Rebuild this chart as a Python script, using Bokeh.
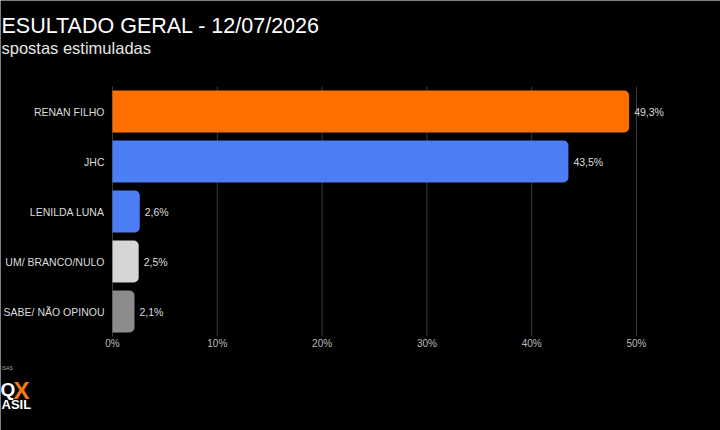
from bokeh.plotting import figure
from bokeh.models import ColumnDataSource, Range1d, Label
from bokeh.core.properties import value
from bokeh.embed import file_html
from bokeh.resources import INLINE

# ---- data ----
categories = ["RENAN FILHO", "JHC", "LENILDA LUNA", "UM/ BRANCO/NULO", "SABE/ NÃO OPINOU"]
values = [49.3, 43.5, 2.6, 2.5, 2.1]
value_labels = ["49,3%", "43,5%", "2,6%", "2,5%", "2,1%"]
colors = ["#FF6F00", "#4D7EF6", "#4D7EF6", "#D6D6D6", "#8C8C8C"]
x_ticks = [0, 10, 20, 30, 40, 50]
x_tick_labels = ["0%", "10%", "20%", "30%", "40%", "50%"]
title_text = "ESULTADO GERAL - 12/07/2026"
subtitle_text = "spostas estimuladas"

FONT = "Liberation Sans"
W, H = 720, 430

# ---- layout (pixels) ----
X0_PX = 112          # pixel of 0 %
PX_PER_UNIT = 10.48  # pixels per 1 %
Y0_PX = 111          # centre of first band
BAND_PX = 50         # band height

x_start = -X0_PX / PX_PER_UNIT
x_end = (W - X0_PX) / PX_PER_UNIT
y_top = -Y0_PX / BAND_PX
y_bottom = (H - Y0_PX) / BAND_PX

pos = list(range(len(categories)))  # band index of each category (top to bottom)

src = ColumnDataSource(dict(cat=categories, pos=pos, val=values, lab=value_labels,
                            col=colors, zero=[0] * len(categories)))

p = figure(width=W, height=H, output_backend="svg", toolbar_location=None,
           x_range=Range1d(x_start, x_end), y_range=Range1d(y_bottom, y_top),
           x_axis_type=None, y_axis_type=None,
           min_border_left=0, min_border_right=0, min_border_top=0, min_border_bottom=0)
p.background_fill_color = "black"
p.border_fill_color = "black"
p.outline_line_color = None
p.xgrid.visible = False
p.ygrid.visible = False

# grid lines spanning the band area only
n = len(categories)
p.segment(x0=x_ticks, x1=x_ticks, y0=[-0.5] * len(x_ticks), y1=[n - 0.5] * len(x_ticks),
          line_color="#3A3A3A", line_width=1)

# bars
p.hbar(y="pos", right="val", left=0, height=0.84, source=src, fill_color="col",
       line_color=None, border_radius=(0, 5, 5, 0))

# value labels
p.text(x="val", y="pos", text="lab", source=src, x_offset=5,
       text_align="left", text_baseline="middle",
       text_font=value(FONT), text_font_size="10.5px", text_color="#DDDDDD")

# category labels (left axis)
p.text(x="zero", y="pos", text="cat", source=src, x_offset=-8,
       text_align="right", text_baseline="middle",
       text_font=value(FONT), text_font_size="10.5px", text_color="#DDDDDD")

# x tick labels
p.text(x=x_ticks, y=[n - 0.5] * len(x_ticks), text=x_tick_labels, y_offset=7,
       text_align="center", text_baseline="middle",
       text_font=value(FONT), text_font_size="10px", text_color="#BBBBBB")


def add_text(cx, cy, text, size, color, bold=False):
    # canvas pixel (cx, cy-baseline from top) -> screen units (origin bottom-left)
    p.add_layout(Label(x=cx, y=H - cy, x_units="screen", y_units="screen",
                       text=text, text_font=FONT, text_font_size=size,
                       text_font_style="bold" if bold else "normal",
                       text_color=color, text_baseline="alphabetic"))


add_text(1, 25, title_text, "21.5px", "white")
add_text(1, 47, subtitle_text, "16.5px", "#E6E6E6")
# logo
add_text(1, 367, "ISAS", "5px", "#AAAAAA")
add_text(0, 389, "Q", "19px", "white", bold=True)
add_text(13, 390, "X", "24px", "#F07A1A", bold=True)
add_text(1, 404, "ASIL", "13px", "white", bold=True)

open("out.html", "w").write(file_html(p, INLINE))
